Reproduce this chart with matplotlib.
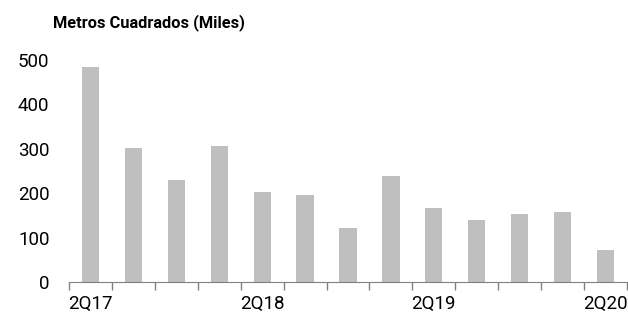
import numpy as np
import matplotlib
matplotlib.use('Agg')
import matplotlib.pyplot as plt

quarters = ['2Q17', '3Q17', '4Q17', '1Q18', '2Q18', '3Q18', '4Q18',
            '1Q19', '2Q19', '3Q19', '4Q19', '1Q20', '2Q20']
metros = [485, 301, 229, 306, 202, 196, 121, 238, 166, 139, 153, 157, 72]
shown_labels = ['2Q17', '2Q18', '2Q19', '2Q20']

plt.rcParams['font.family'] = ['Roboto', 'DejaVu Sans']

fig = plt.figure(figsize=(6.28, 3.18), dpi=100)
ax = fig.add_axes([69/628, 1 - 282/318, (627 - 69)/628, (282 - 60)/318])

x = np.arange(len(quarters))
ax.bar(x, metros, width=0.4, color='#bfbfbf')

ax.set_xlim(-0.5, len(quarters) - 0.5)
ax.set_ylim(0, 500)
ax.set_yticks([0, 100, 200, 300, 400, 500])
ax.tick_params(axis='y', length=0, labelsize=13.5, pad=14, colors='#000000')

# labels only at every 4th quarter, ticks at the category borders
ax.set_xticks([quarters.index(q) for q in shown_labels])
ax.set_xticklabels(shown_labels)
ax.set_xticks(np.arange(-0.5, len(quarters)), minor=True)
ax.tick_params(axis='x', which='major', length=0, labelsize=13.5, pad=9)
ax.tick_params(axis='x', which='minor', length=6, width=1, color='#808080', direction='out')

for s in ['top', 'right', 'left']:
    ax.spines[s].set_visible(False)
ax.spines['bottom'].set_color('#808080')

fig.text(53/628, 1 - 23/318, 'Metros Cuadrados (Miles)', fontsize=11.8,
         fontweight='bold', va='center', ha='left')

fig.savefig('out.png', dpi=100)
